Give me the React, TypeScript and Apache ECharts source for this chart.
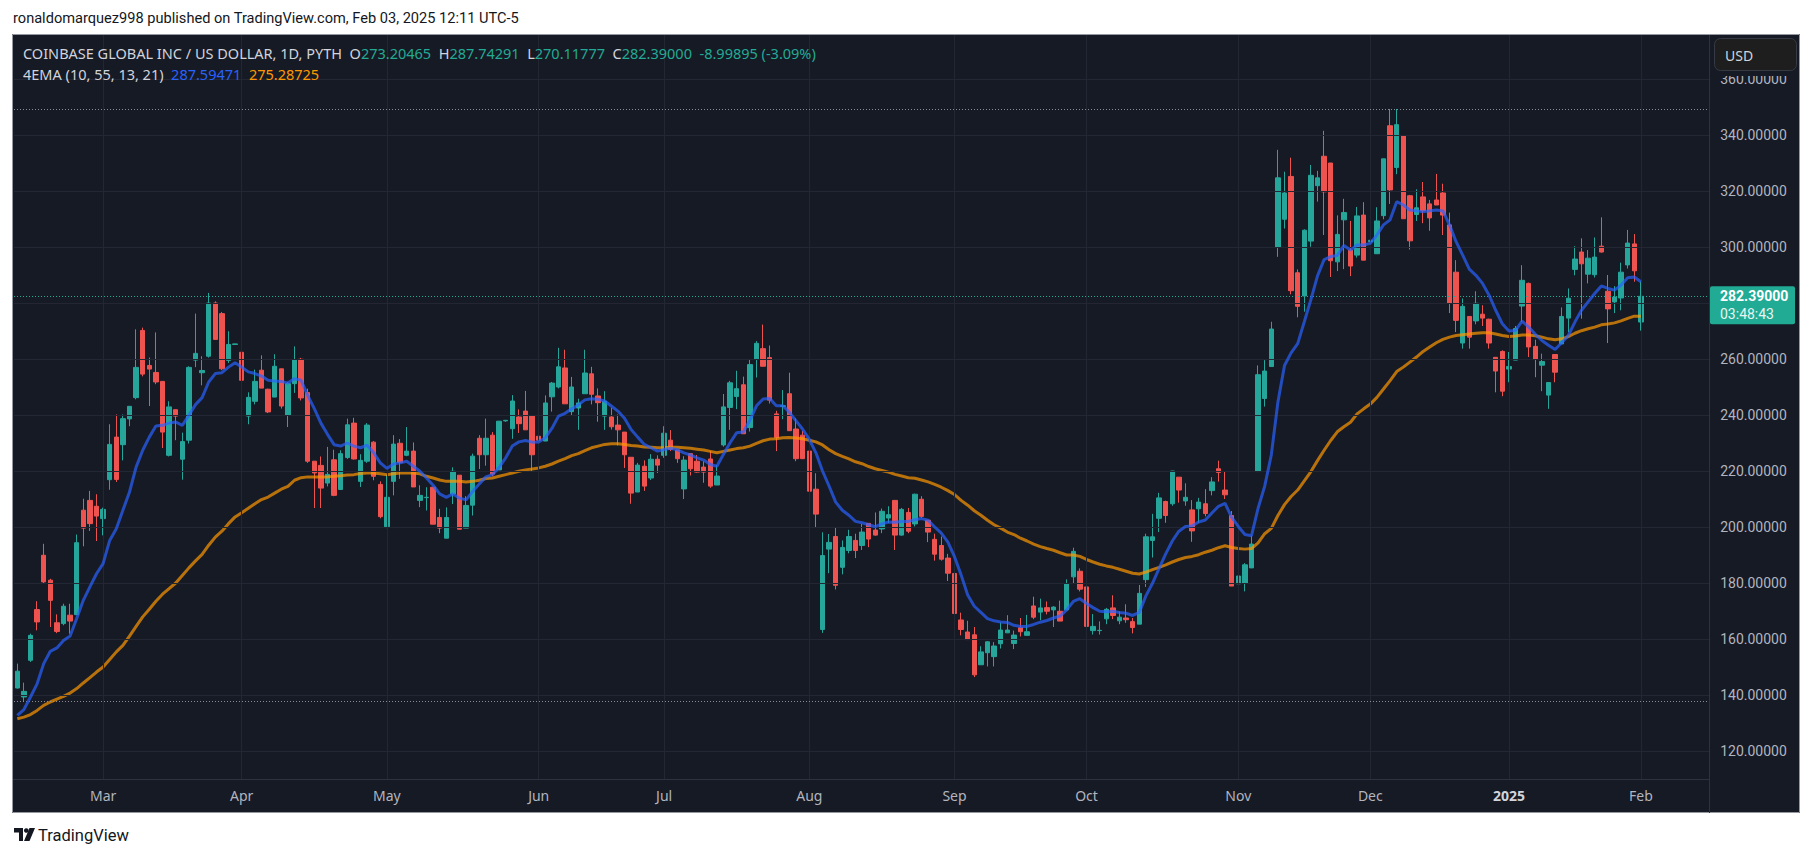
import React, { useEffect, useRef } from "react";
import * as echarts from "echarts";

// ---------- texts ----------
const HEADER_TEXT = "ronaldomarquez998 published on TradingView.com, Feb 03, 2025 12:11 UTC-5";
const SYMBOL_TITLE = "COINBASE GLOBAL INC / US DOLLAR, 1D, PYTH";
const INDICATOR_TITLE = "4EMA (10, 55, 13, 21)";
const LAST_CHANGE = "-8.99895 (-3.09%)";
const EMA_LAST = ["287.59471", "275.28725"];
const COUNTDOWN = "03:48:43";
const CURRENCY = "USD";
const BRAND = "TradingView";
const MONTH_NAMES = ["Jan", "Feb", "Mar", "Apr", "May", "Jun", "Jul", "Aug", "Sep", "Oct", "Nov", "Dec"];

// ---------- calendar ----------
const FIRST_SESSION = [2024, 1, 12]; // 2024-02-12
const HOLIDAYS = [
  "2024-02-19", "2024-06-19", "2024-07-04", "2024-09-02", "2024-11-28",
  "2024-12-25", "2025-01-01", "2025-01-09", "2025-01-20",
];
const FUTURE_SESSIONS = 10;
const PRICE_TICKS = [120, 140, 160, 180, 200, 220, 240, 260, 280, 300, 320, 340, 360];

// ---------- daily candles ----------
const OPEN = [
  142.5, 139.3, 152.4, 170.5, 189.9, 181.0, 165.8, 165.5, 168.5, 168.7,
  206.0, 209.5, 207.4, 203.0, 216.9, 232.1, 229.4, 238.6, 246.2, 270.2,
  257.7, 255.2, 252.0, 225.6, 241.9, 224.2, 231.0, 259.6, 255.1, 261.0,
  280.0, 276.2, 259.5, 265.2, 262.4, 239.6, 244.9, 256.0, 249.2, 246.4,
  256.5, 239.9, 251.2, 259.9, 248.0, 223.5, 222.0, 215.7, 224.0, 213.4,
  224.8, 237.1, 216.3, 223.5, 230.3, 215.2, 200.1, 216.3, 229.9, 225.6,
  227.1, 209.5, 210.5, 214.2, 203.4, 196.0, 211.8, 218.5, 199.6, 207.8,
  231.7, 225.8, 232.8, 220.4, 237.9, 235.1, 239.3, 241.4, 239.6, 232.4,
  230.7, 246.5, 250.0, 256.8, 241.2, 242.5, 247.6, 254.7, 246.8, 239.6,
  239.3, 236.4, 233.9, 224.9, 212.5, 221.7, 217.5, 224.2, 225.6, 231.0,
  227.5, 213.6, 226.2, 223.5, 221.4, 224.3, 215.0, 229.3, 242.7, 246.6,
  250.8, 235.5, 259.9, 263.7, 260.5, 240.4, 243.1, 247.6, 235.0, 232.8,
  227.1, 213.5, 163.4, 192.1, 196.6, 185.6, 191.6, 195.2, 193.4, 201.3,
  198.9, 199.3, 203.2, 209.5, 197.1, 205.2, 201.1, 209.9, 202.4, 195.6,
  193.4, 188.9, 183.4, 166.8, 162.5, 161.5, 150.8, 155.1, 153.7, 158.3,
  162.2, 158.4, 164.0, 161.3, 171.8, 169.6, 171.2, 170.4, 169.9, 170.4,
  182.2, 184.2, 178.6, 163.0, 163.0, 167.2, 171.1, 166.5, 167.5, 166.2,
  165.3, 181.2, 195.2, 203.1, 209.1, 208.3, 217.8, 209.3, 206.1, 206.5,
  208.3, 213.0, 220.8, 213.2, 204.1, 179.7, 180.0, 185.4, 219.8, 245.9,
  257.3, 300.0, 309.9, 325.2, 290.8, 282.5, 302.1, 321.9, 332.4, 330.0,
  294.7, 309.7, 298.9, 297.1, 311.4, 301.9, 297.6, 311.2, 343.3, 328.4,
  339.8, 318.3, 311.6, 317.9, 315.4, 316.8, 319.3, 307.9, 291.0, 265.7,
  275.2, 273.6, 276.0, 274.2, 260.6, 262.7, 256.4, 259.6, 278.9, 287.0,
  264.5, 257.8, 247.1, 261.6, 265.4, 274.6, 292.0, 298.2, 290.3, 290.1,
  300.3, 284.2, 280.4, 281.8, 293.6, 301.1, 273.20465,
];
const HIGH = [
  151.2, 144.4, 161.9, 173.5, 194.0, 181.5, 168.8, 172.6, 172.6, 197.3,
  210.1, 212.9, 211.7, 206.9, 236.7, 240.2, 240.2, 243.1, 270.6, 271.2,
  260.5, 269.5, 252.0, 244.9, 241.9, 233.7, 257.4, 276.2, 261.0, 283.6,
  280.6, 276.8, 269.9, 265.5, 268.8, 248.1, 256.2, 261.3, 249.4, 261.7,
  256.5, 251.7, 264.5, 260.4, 249.4, 223.5, 225.2, 228.6, 227.6, 227.4,
  238.7, 239.0, 226.0, 237.1, 230.7, 216.3, 218.7, 232.8, 231.4, 235.7,
  230.2, 214.9, 214.2, 214.2, 206.5, 207.0, 221.3, 218.5, 211.0, 226.2,
  232.8, 238.7, 233.9, 237.8, 238.1, 247.1, 242.0, 248.6, 240.0, 239.3,
  247.0, 251.8, 264.0, 263.3, 253.6, 245.8, 263.3, 257.2, 249.5, 248.5,
  242.6, 240.2, 233.9, 224.9, 222.9, 223.8, 226.0, 225.6, 236.0, 234.6,
  227.5, 225.3, 226.2, 225.7, 223.5, 227.1, 222.1, 247.5, 252.2, 255.8,
  253.7, 259.7, 266.4, 272.3, 264.8, 241.5, 248.9, 255.1, 238.9, 234.3,
  227.1, 219.2, 198.1, 197.5, 199.9, 195.2, 199.0, 197.6, 201.1, 201.3,
  205.2, 206.6, 207.4, 209.5, 206.8, 206.8, 211.9, 211.0, 202.4, 197.6,
  196.6, 190.4, 183.4, 169.4, 166.5, 164.3, 157.4, 159.2, 158.9, 165.9,
  168.5, 163.0, 167.5, 168.6, 175.1, 174.4, 173.4, 171.7, 173.7, 181.3,
  192.6, 185.2, 178.6, 168.9, 166.3, 171.1, 175.6, 169.8, 172.4, 167.5,
  179.3, 197.6, 204.7, 212.2, 209.4, 220.0, 217.8, 215.6, 209.6, 210.4,
  213.5, 217.8, 223.7, 220.0, 205.7, 191.0, 187.1, 196.9, 257.7, 259.6,
  273.3, 334.7, 326.9, 331.9, 292.0, 306.3, 329.3, 327.2, 341.5, 330.0,
  311.3, 317.2, 309.3, 314.3, 316.0, 311.4, 314.2, 331.5, 349.3, 349.3,
  339.8, 318.6, 320.6, 323.2, 316.8, 326.1, 322.6, 312.3, 295.3, 281.6,
  275.2, 284.2, 279.2, 274.4, 260.6, 263.1, 262.5, 271.8, 293.5, 287.3,
  266.9, 261.9, 251.6, 261.6, 278.4, 285.2, 300.3, 303.1, 298.9, 303.4,
  310.6, 290.0, 286.0, 294.4, 306.1, 304.6, 287.74291,
];
const LOW = [
  142.3, 137.6, 151.8, 163.1, 179.8, 164.3, 162.1, 164.9, 161.9, 168.5,
  193.1, 198.6, 195.0, 197.0, 213.3, 216.1, 223.8, 236.0, 245.6, 253.8,
  243.2, 251.0, 228.2, 225.2, 231.0, 216.9, 229.8, 257.1, 250.6, 260.5,
  267.0, 256.0, 258.6, 265.0, 249.4, 236.7, 243.8, 249.6, 240.7, 246.4,
  242.3, 235.7, 247.9, 245.2, 222.9, 206.8, 206.8, 214.5, 211.0, 213.2,
  224.3, 224.1, 214.3, 222.9, 216.7, 203.1, 199.6, 211.3, 217.2, 225.3,
  214.3, 207.1, 205.9, 201.0, 197.8, 196.0, 208.2, 199.2, 199.6, 204.1,
  220.7, 221.9, 218.1, 220.4, 237.6, 231.5, 233.6, 234.7, 219.7, 225.0,
  230.7, 241.2, 249.5, 244.0, 240.0, 234.7, 247.6, 243.8, 237.6, 234.7,
  234.8, 229.1, 221.1, 208.3, 212.5, 212.9, 216.8, 219.3, 224.7, 227.1,
  222.9, 210.0, 218.4, 219.4, 215.8, 214.0, 215.0, 228.7, 234.7, 242.1,
  233.3, 234.1, 253.4, 257.4, 244.1, 227.1, 238.5, 234.4, 223.5, 224.4,
  208.2, 199.9, 162.2, 183.5, 177.7, 183.1, 190.6, 188.9, 191.8, 192.8,
  196.9, 197.8, 201.4, 191.8, 196.9, 197.8, 200.2, 203.2, 194.6, 188.0,
  188.0, 180.7, 168.3, 161.3, 159.8, 146.4, 150.8, 150.2, 150.2, 156.6,
  162.2, 156.4, 160.9, 161.3, 167.1, 166.7, 168.8, 164.3, 166.4, 170.4,
  180.0, 177.0, 160.3, 161.6, 161.6, 165.3, 167.1, 165.3, 165.8, 162.0,
  165.3, 178.6, 189.1, 198.2, 201.5, 207.6, 208.7, 207.6, 194.7, 201.5,
  203.8, 211.3, 216.2, 210.0, 178.9, 179.7, 177.0, 185.4, 219.8, 243.0,
  257.3, 296.5, 306.6, 283.1, 274.9, 276.9, 300.1, 316.2, 304.3, 289.3,
  291.4, 292.1, 289.6, 296.2, 295.3, 301.9, 297.6, 309.9, 315.4, 326.0,
  310.1, 299.1, 309.3, 308.5, 305.8, 315.0, 304.3, 276.4, 269.6, 263.7,
  263.7, 272.4, 271.8, 263.7, 248.1, 246.7, 251.7, 259.6, 273.2, 260.7,
  253.5, 248.5, 242.2, 251.7, 265.4, 269.6, 289.9, 274.4, 287.0, 289.1,
  298.0, 265.7, 276.4, 277.4, 292.3, 287.6, 270.11777,
];
const CLOSE = [
  148.5, 141.3, 161.3, 166.1, 180.4, 173.8, 162.7, 171.7, 166.4, 194.4,
  199.6, 201.2, 203.9, 206.3, 229.5, 217.0, 238.7, 243.1, 257.0, 254.6,
  256.4, 251.8, 233.9, 242.9, 239.6, 230.5, 257.0, 262.0, 255.9, 280.0,
  267.0, 256.5, 265.2, 265.4, 252.4, 246.3, 252.0, 249.6, 241.1, 257.4,
  243.2, 251.2, 259.8, 246.1, 223.5, 219.3, 213.9, 218.8, 211.3, 226.2,
  236.5, 224.3, 223.8, 236.4, 218.1, 203.7, 210.6, 229.6, 223.1, 227.1,
  214.3, 211.3, 210.6, 201.0, 199.6, 203.4, 219.9, 199.2, 207.7, 225.3,
  225.8, 231.7, 218.9, 237.8, 238.1, 245.0, 236.9, 234.7, 225.8, 231.0,
  244.3, 251.4, 257.2, 244.0, 250.0, 244.3, 255.0, 247.4, 244.4, 244.9,
  235.8, 234.7, 225.8, 212.1, 222.1, 214.6, 224.2, 222.1, 233.5, 227.7,
  224.4, 223.9, 220.8, 219.6, 219.6, 214.6, 218.2, 242.9, 251.5, 249.4,
  233.3, 258.0, 265.6, 257.4, 245.3, 231.9, 243.3, 234.4, 224.4, 224.4,
  212.8, 204.6, 189.8, 194.5, 179.2, 192.7, 196.6, 191.6, 198.2, 195.7,
  197.1, 205.6, 204.4, 197.1, 206.3, 198.5, 211.7, 203.8, 198.2, 190.3,
  188.5, 183.5, 169.1, 163.4, 159.8, 147.2, 155.4, 159.0, 157.5, 163.2,
  163.2, 161.4, 162.6, 162.6, 167.8, 171.1, 169.9, 171.4, 166.4, 179.7,
  191.3, 177.8, 164.5, 164.5, 163.1, 170.6, 168.4, 167.8, 166.9, 164.1,
  176.3, 196.5, 196.5, 210.4, 204.1, 220.0, 213.2, 210.6, 198.6, 208.9,
  204.8, 216.1, 219.5, 211.5, 178.9, 182.5, 186.5, 193.9, 254.4, 255.7,
  270.7, 324.7, 319.3, 284.4, 278.8, 306.0, 325.6, 324.7, 319.7, 295.1,
  304.5, 312.3, 293.2, 311.1, 295.3, 302.4, 309.3, 331.5, 320.4, 343.7,
  310.1, 302.2, 314.0, 312.9, 310.4, 315.0, 311.4, 280.0, 273.8, 278.8,
  267.8, 279.9, 274.6, 265.7, 255.7, 248.5, 257.3, 270.9, 288.1, 264.3,
  260.0, 259.1, 251.6, 255.3, 275.2, 281.7, 295.7, 294.0, 296.0, 296.4,
  298.2, 277.9, 282.1, 291.0, 301.4, 291.5, 282.39,
];

// ---------- indicator values ----------
const EMA_FAST = [
  132.7, 134.8, 139.3, 144.0, 151.2, 155.6, 156.8, 159.5, 161.1, 167.3,
  173.8, 178.6, 183.3, 186.9, 195.2, 199.4, 206.0, 212.5, 221.4, 227.4,
  232.1, 236.1, 236.3, 237.1, 237.5, 236.3, 239.9, 243.7, 246.2, 251.8,
  254.8, 255.1, 257.1, 258.7, 257.1, 255.4, 254.8, 253.9, 252.4, 252.1,
  252.0, 251.4, 253.0, 252.4, 247.0, 242.3, 237.1, 233.1, 229.4, 228.9,
  230.0, 228.9, 228.3, 229.2, 226.5, 222.9, 220.9, 222.5, 222.9, 223.5,
  221.7, 219.9, 217.5, 214.9, 211.8, 210.6, 211.8, 210.3, 209.7, 212.7,
  215.4, 217.9, 218.7, 221.3, 224.7, 228.9, 230.4, 230.9, 230.3, 230.4,
  231.9, 235.2, 239.6, 240.6, 242.2, 243.6, 245.4, 245.8, 245.6, 245.0,
  243.2, 241.4, 238.8, 234.8, 232.1, 229.5, 228.3, 227.1, 227.7, 228.1,
  227.6, 226.5, 225.7, 224.7, 223.9, 222.3, 221.7, 226.0, 230.1, 233.7,
  233.9, 238.1, 243.3, 245.7, 245.9, 243.3, 243.3, 240.9, 237.9, 234.9,
  231.3, 226.5, 220.0, 214.6, 208.9, 206.0, 204.2, 202.0, 201.5, 200.8,
  200.1, 201.1, 201.8, 201.7, 202.0, 202.0, 202.6, 203.0, 202.4, 200.0,
  197.8, 194.6, 189.4, 182.9, 175.7, 171.7, 169.5, 167.3, 166.5, 166.1,
  165.9, 164.9, 164.5, 164.5, 165.2, 166.0, 166.6, 167.5, 168.2, 170.4,
  173.4, 174.4, 172.7, 171.2, 169.9, 169.7, 169.9, 169.5, 169.2, 168.4,
  169.5, 175.4, 179.9, 185.2, 190.4, 195.0, 198.5, 200.2, 200.4, 201.8,
  202.5, 205.0, 207.4, 208.4, 203.4, 200.2, 197.3, 196.9, 206.7, 214.6,
  225.7, 244.6, 257.7, 262.2, 265.5, 273.3, 281.2, 289.7, 295.5, 296.6,
  297.0, 300.5, 298.9, 300.7, 300.7, 301.3, 304.3, 307.9, 309.7, 316.2,
  315.0, 313.2, 312.9, 312.6, 312.9, 313.2, 312.9, 307.9, 301.9, 297.1,
  292.1, 289.9, 287.0, 282.8, 277.4, 272.6, 270.0, 270.2, 273.5, 271.4,
  268.8, 266.6, 264.9, 263.4, 265.8, 268.4, 273.2, 277.4, 280.4, 283.4,
  286.1, 285.2, 284.6, 286.4, 289.0, 289.3, 287.59471,
];
const EMA_SLOW = [
  131.5, 132.1, 133.0, 134.5, 136.3, 137.5, 138.5, 139.5, 140.7, 142.3,
  144.3, 146.2, 148.2, 150.0, 152.7, 155.4, 157.7, 161.0, 164.5, 167.9,
  170.6, 173.5, 176.0, 178.0, 180.0, 182.7, 185.4, 187.9, 190.2, 193.5,
  196.4, 198.5, 201.2, 203.6, 205.1, 206.7, 208.3, 209.8, 210.7, 212.1,
  213.5, 214.5, 216.7, 217.6, 217.9, 217.9, 217.9, 217.9, 218.1, 218.3,
  218.6, 218.7, 219.1, 219.3, 219.3, 219.0, 218.7, 219.0, 219.3, 219.3,
  219.3, 219.0, 218.1, 217.5, 216.8, 216.3, 216.3, 216.3, 216.1, 216.3,
  216.7, 217.3, 217.5, 218.1, 218.7, 219.3, 219.9, 220.4, 220.7, 221.1,
  221.7, 222.5, 223.5, 224.4, 225.5, 226.2, 227.3, 228.3, 228.9, 229.5,
  229.7, 229.7, 229.5, 229.1, 228.9, 228.6, 228.5, 228.3, 228.3, 228.5,
  228.5, 228.3, 228.1, 227.8, 227.5, 227.0, 226.5, 227.0, 227.5, 228.0,
  228.3, 228.9, 229.9, 230.8, 231.4, 231.5, 231.9, 232.0, 231.8, 231.5,
  231.0, 230.4, 229.3, 227.6, 226.2, 225.2, 224.3, 223.3, 222.6, 221.6,
  220.8, 220.2, 219.6, 218.8, 218.2, 217.6, 217.4, 216.8, 216.1, 215.2,
  214.2, 213.0, 211.6, 209.5, 207.8, 205.8, 204.2, 202.4, 200.8, 199.6,
  198.2, 197.3, 196.0, 195.0, 193.9, 193.0, 192.3, 191.7, 190.8, 190.0,
  190.0, 189.5, 188.4, 187.5, 186.7, 186.1, 185.6, 184.9, 184.2, 183.5,
  183.2, 183.9, 184.8, 185.6, 186.5, 187.5, 188.4, 189.1, 189.5, 190.1,
  191.0, 191.7, 192.6, 193.3, 192.7, 192.3, 192.1, 192.3, 194.3, 197.6,
  199.5, 204.1, 208.0, 210.9, 213.2, 216.5, 219.8, 223.7, 227.4, 230.9,
  234.0, 235.8, 237.4, 240.4, 242.2, 243.9, 246.3, 249.3, 252.3, 255.5,
  257.1, 258.9, 260.7, 262.7, 264.3, 265.8, 267.0, 267.8, 268.4, 268.7,
  268.9, 269.2, 269.4, 269.4, 268.9, 268.4, 268.0, 268.2, 268.6, 268.6,
  268.3, 267.8, 267.2, 266.9, 267.2, 268.0, 269.2, 270.1, 270.8, 271.4,
  272.2, 272.5, 272.9, 273.6, 274.5, 275.3, 275.28725,
];

// ---------- styles ----------
const FONT = "'Noto Sans', Roboto, sans-serif";
const AXIS_FONT = "Roboto, 'Noto Sans', sans-serif";
const LEGEND_SIZE = 14.5;
const BG = "#161A25";
const GRID = "#232733";
const AXIS_TEXT = "#B2B5BE";
const LEGEND_TEXT = "#D1D4DC";
const UP = "#26A69A";
const DOWN = "#EF5350";
const TEAL = "#22AB94";
const BLUE = "#2962FF";
const ORANGE = "#FF9800";

function buildSessions(): string[] {
  const out: string[] = [];
  const d = new Date(Date.UTC(FIRST_SESSION[0], FIRST_SESSION[1], FIRST_SESSION[2]));
  const total = OPEN.length + FUTURE_SESSIONS;
  while (out.length < total) {
    const iso = d.toISOString().slice(0, 10);
    const wd = d.getUTCDay();
    if (wd !== 0 && wd !== 6 && !HOLIDAYS.includes(iso)) out.push(iso);
    d.setUTCDate(d.getUTCDate() + 1);
  }
  return out;
}

export default function App() {
  const ref = useRef<HTMLDivElement>(null);

  useEffect(() => {
    document.body.style.margin = "0";
    document.body.style.overflow = "hidden";
    const el = ref.current;
    if (!el) return;
    const chart = echarts.init(el, undefined, { renderer: "svg" });

    const dates = buildSessions();
    const monthStarts: number[] = [];
    for (let i = 1; i < dates.length; i++) {
      if (dates[i].slice(0, 7) !== dates[i - 1].slice(0, 7)) monthStarts.push(i);
    }
    const monthStartSet = new Set(monthStarts);
    const candles = OPEN.map((o, i) => [o, CLOSE[i], LOW[i], HIGH[i]]);
    const last = OPEN.length - 1;
    const hi = Math.max(...HIGH);
    const lo = Math.min(...LOW);

    const band = 6.6;
    const gridLeft = 14;
    const gridRightEdge = gridLeft + band * dates.length;

    const yAxisBase = {
      type: "value",
      position: "right",
      min: 110,
      max: 360 + 45 / 2.8,
      splitLine: { show: false },
      axisLine: { show: false },
      axisTick: { show: false },
      z: 1,
    };
    const yLabelStyle = {
      margin: 10,
      color: AXIS_TEXT,
      fontSize: 14,
      fontFamily: AXIS_FONT,
      formatter: (v: number) => v.toFixed(5),
    };

    chart.setOption({
      animation: false,
      backgroundColor: BG,
      textStyle: { fontFamily: FONT },
      grid: { left: gridLeft, right: 1814 - gridRightEdge, top: 34, bottom: 79, containLabel: false },
      xAxis: {
        type: "category",
        data: dates,
        boundaryGap: true,
        axisLine: { show: false },
        axisTick: { show: false },
        splitLine: { show: false },
        axisLabel: {
          interval: (i: number) => monthStartSet.has(i),
          margin: 9,
          color: AXIS_TEXT,
          fontSize: 14,
          fontFamily: FONT,
          formatter: (v: string) => {
            const y = Number(v.slice(0, 4));
            const m = Number(v.slice(5, 7));
            return m === 1 ? `{y|${y}}` : MONTH_NAMES[m - 1];
          },
          rich: { y: { fontWeight: "bold", color: LEGEND_TEXT, fontSize: 14, fontFamily: FONT } },
        },
        z: 7,
      },
      yAxis: { ...yAxisBase, axisLabel: { ...yLabelStyle, customValues: PRICE_TICKS } },
      series: [
        {
          type: "line",
          data: [],
          silent: true,
          z: 1,
          showSymbol: false,
          markLine: {
            silent: true,
            animation: false,
            symbol: ["none", "none"],
            label: { show: false },
            lineStyle: { color: GRID, width: 1, type: "solid" },
            data: [
              ...PRICE_TICKS.map((v) => ({ yAxis: v })),
              ...monthStarts.map((i) => ({ xAxis: dates[i] })),
            ],
          },
        },
        {
          type: "candlestick",
          data: candles,
          barWidth: 5,
          z: 3,
          itemStyle: {
            color: UP,
            color0: DOWN,
            borderColor: UP,
            borderColor0: DOWN,
            borderWidth: 1,
          },
          markLine: {
            silent: true,
            animation: false,
            symbol: ["none", "none"],
            label: { show: false },
            data: [
              { yAxis: hi, lineStyle: { color: "#9598A1", width: 1, type: [1, 2], opacity: 0.9 } },
              { yAxis: lo, lineStyle: { color: "#9598A1", width: 1, type: [1, 2], opacity: 0.9 } },
              { yAxis: CLOSE[last], lineStyle: { color: TEAL, width: 1, type: [1, 2] } },
            ],
          },
        },
        {
          type: "line",
          data: EMA_SLOW,
          z: 4,
          symbol: "none",
          silent: true,
          lineStyle: { color: ORANGE, width: 3, opacity: 0.7 },
        },
        {
          type: "line",
          data: EMA_FAST,
          z: 5,
          symbol: "none",
          silent: true,
          lineStyle: { color: BLUE, width: 3, opacity: 0.7 },
        },
      ],
    });

    const py = chart.convertToPixel({ yAxisIndex: 0 }, CLOSE[last]) as number;
    const tagTop = py - 10;
    const tagBottom = py + 28;
    // price labels hidden behind the last-price tag, as in the reference
    const visibleTicks = PRICE_TICKS.filter((t) => {
      const ty = chart.convertToPixel({ yAxisIndex: 0 }, t) as number;
      return ty + 9 < tagTop || ty - 9 > tagBottom;
    });
    const fmt = (v: number) => v.toFixed(5);

    chart.setOption({
      yAxis: { ...yAxisBase, axisLabel: { ...yLabelStyle, customValues: visibleTicks } },
      graphic: [
        // white page around the chart frame
        { type: "rect", z: 20, shape: { x: 0, y: 0, width: 1814, height: 34 }, style: { fill: "#FFFFFF" } },
        { type: "rect", z: 20, shape: { x: 0, y: 813, width: 1814, height: 45 }, style: { fill: "#FFFFFF" } },
        { type: "rect", z: 20, shape: { x: 0, y: 0, width: 12, height: 858 }, style: { fill: "#FFFFFF" } },
        { type: "rect", z: 20, shape: { x: 1800, y: 0, width: 14, height: 858 }, style: { fill: "#FFFFFF" } },
        // header
        {
          type: "text", z: 21, x: 13, y: 18,
          style: { text: HEADER_TEXT, fill: "#131722", fontSize: 14.6, fontFamily: AXIS_FONT, verticalAlign: "middle" },
        },
        // frame + separators
        {
          type: "rect", z: 22,
          shape: { x: 12.5, y: 34.5, width: 1787, height: 778 },
          style: { fill: "none", stroke: "#9598A1", lineWidth: 1 },
        },
        { type: "line", z: 22, shape: { x1: 1709.5, y1: 35, x2: 1709.5, y2: 813 }, style: { stroke: "#2E3240", lineWidth: 1 } },
        { type: "line", z: 22, shape: { x1: 13, y1: 779.5, x2: 1709.5, y2: 779.5 }, style: { stroke: "#2E3240", lineWidth: 1 } },
        // currency button
        { type: "rect", z: 15, shape: { x: 1710, y: 35, width: 89, height: 41 }, style: { fill: BG } },
        {
          type: "rect", z: 16,
          shape: { x: 1714.5, y: 38.5, width: 82, height: 32, r: 6 },
          style: { fill: "#1E1E1E", stroke: "#363A45", lineWidth: 1 },
        },
        {
          type: "text", z: 17, x: 1725, y: 55,
          style: { text: CURRENCY, fill: LEGEND_TEXT, fontSize: 14, fontFamily: FONT, verticalAlign: "middle" },
        },
        // last price tag
        {
          type: "rect", z: 16,
          shape: { x: 1710, y: tagTop, width: 85, height: tagBottom - tagTop, r: 2 },
          style: { fill: TEAL },
        },
        {
          type: "text", z: 17, x: 1720, y: py,
          style: { text: fmt(CLOSE[last]), fill: "#FFFFFF", fontSize: 14, fontWeight: "bold", fontFamily: AXIS_FONT, verticalAlign: "middle", lineHeight: 16 },
        },
        {
          type: "text", z: 17, x: 1720, y: py + 18,
          style: { text: COUNTDOWN, fill: "#E6F5F2", fontSize: 14, fontFamily: AXIS_FONT, verticalAlign: "middle", lineHeight: 16 },
        },
        // legend
        {
          type: "text", z: 17, x: 23, y: 53,
          style: {
            text:
              `{t|${SYMBOL_TITLE}}  {k|O}{v|${fmt(OPEN[last])}}  {k|H}{v|${fmt(HIGH[last])}}  {k|L}{v|${fmt(LOW[last])}}  {k|C}{v|${fmt(CLOSE[last])}}  {v|${LAST_CHANGE}}`,
            fontSize: LEGEND_SIZE,
            fontFamily: FONT,
            verticalAlign: "middle",
            fill: LEGEND_TEXT,
            rich: {
              t: { fill: LEGEND_TEXT, color: LEGEND_TEXT, fontSize: LEGEND_SIZE, fontFamily: FONT },
              k: { fill: LEGEND_TEXT, color: LEGEND_TEXT, fontSize: LEGEND_SIZE, fontFamily: FONT },
              v: { fill: TEAL, color: TEAL, fontSize: LEGEND_SIZE, fontFamily: FONT },
            },
          },
        },
        {
          type: "text", z: 17, x: 23, y: 74,
          style: {
            text: `{t|${INDICATOR_TITLE}}  {b|${EMA_LAST[0]}}  {o|${EMA_LAST[1]}}`,
            fontSize: LEGEND_SIZE,
            fontFamily: FONT,
            verticalAlign: "middle",
            fill: LEGEND_TEXT,
            rich: {
              t: { fill: LEGEND_TEXT, color: LEGEND_TEXT, fontSize: LEGEND_SIZE, fontFamily: FONT },
              b: { fill: BLUE, color: BLUE, fontSize: LEGEND_SIZE, fontFamily: FONT },
              o: { fill: ORANGE, color: ORANGE, fontSize: LEGEND_SIZE, fontFamily: FONT },
            },
          },
        },
        // footer brand
        {
          type: "polygon", z: 21,
          shape: { points: [[14, 828], [23, 828], [23, 841], [19, 841], [19, 832.5], [14, 832.5]] },
          style: { fill: "#131722" },
        },
        { type: "circle", z: 21, shape: { cx: 26.3, cy: 830.5, r: 2.3 }, style: { fill: "#131722" } },
        {
          type: "polygon", z: 21,
          shape: { points: [[29.5, 828], [35, 828], [29.5, 841], [24, 841]] },
          style: { fill: "#131722" },
        },
        {
          type: "text", z: 21, x: 38, y: 835,
          style: { text: BRAND, fill: "#131722", fontSize: 16.5, fontFamily: AXIS_FONT, verticalAlign: "middle" },
        },
      ],
    });

    return () => chart.dispose();
  }, []);

  return <div ref={ref} style={{ width: 1814, height: 858 }} />;
}
